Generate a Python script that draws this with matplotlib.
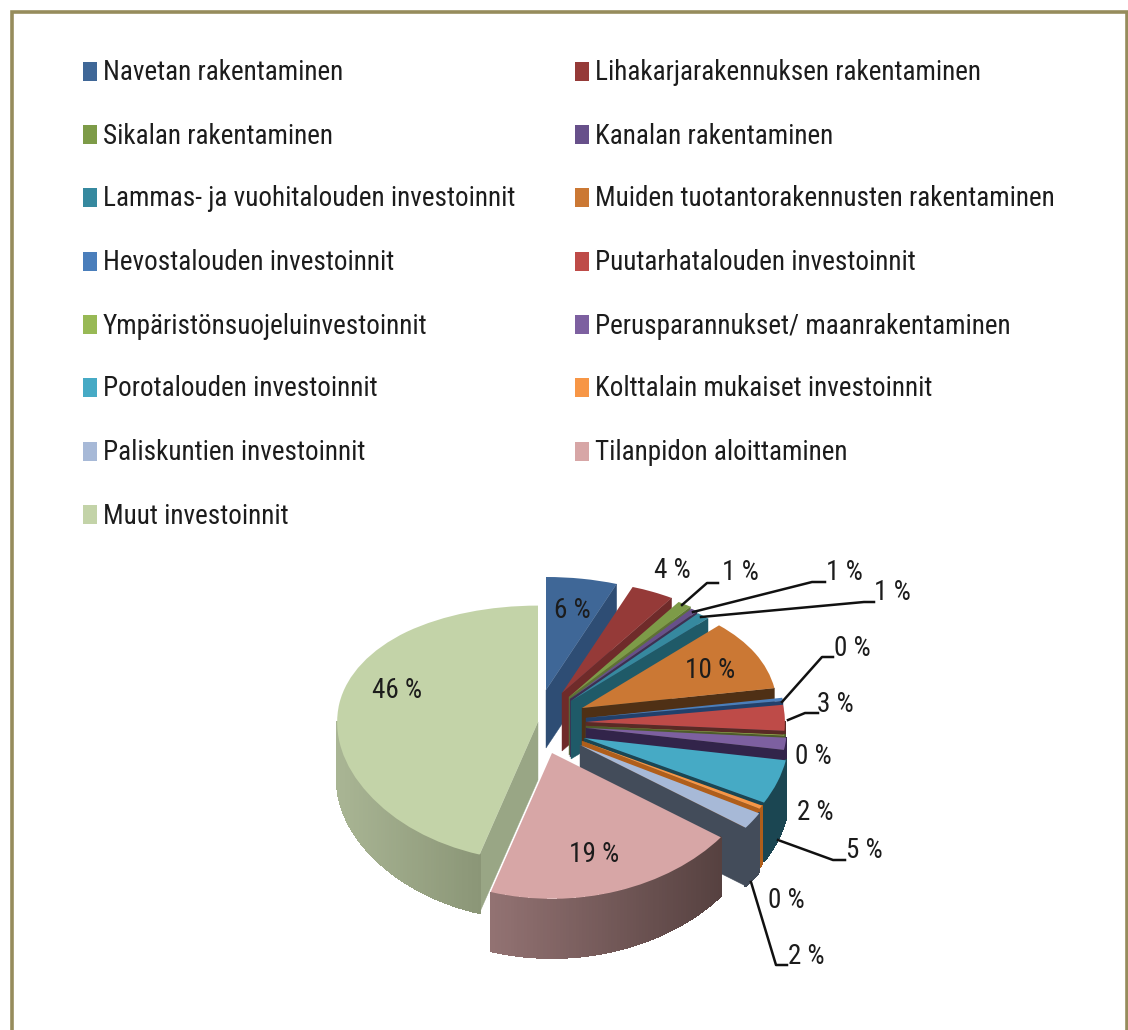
import numpy as np
import matplotlib
matplotlib.use("Agg")
import matplotlib.pyplot as plt
from matplotlib.patches import Rectangle, Polygon
from matplotlib.transforms import Transform, Affine2D
from matplotlib.collections import PolyCollection
from matplotlib.colors import to_rgb

# ---------- data ----------
categories = ["Navetan rakentaminen", "Lihakarjarakennuksen rakentaminen",
              "Sikalan rakentaminen", "Kanalan rakentaminen",
              "Lammas- ja vuohitalouden investoinnit", "Muiden tuotantorakennusten rakentaminen",
              "Hevostalouden investoinnit", "Puutarhatalouden investoinnit",
              "Ympäristönsuojeluinvestoinnit", "Perusparannukset/ maanrakentaminen",
              "Porotalouden investoinnit", "Kolttalain mukaiset investoinnit",
              "Paliskuntien investoinnit", "Tilanpidon aloittaminen", "Muut investoinnit"]
values = [5.9, 3.6, 1.2, 0.6, 1.1, 10.0, 0.4, 3.3, 0.1, 1.5, 5.2, 0.4, 1.9, 19.5, 45.3]
value_labels = ["6 %", "4 %", "1 %", "1 %", "1 %", "10 %", "0 %", "3 %", "0 %", "2 %", "5 %", "0 %", "2 %", "19 %", "46 %"]

# ---------- styling ----------
top_cols = ["#3f6797", "#953a38", "#7d9b48", "#67508a", "#36899f", "#cb7834", "#4a7ebb", "#be4b48",
            "#98b955", "#7d60a0", "#46aac5", "#f79646", "#a7b9d7", "#d7a6a6", "#c3d3a8"]
cut_cols = ["#2e4d74", "#6f2b2a", "#5d7335", "#3e2f52", "#1f5a68", "#4f3015", "#22406b", "#5a2a25",
            "#4d5c2a", "#32244a", "#1b4652", "#b05e1a", "#434c5a", "#8c6c6c", "#99a685"]
rim_light = ["#2e4d74", "#6f2b2a", "#5d7335", "#3e2f52", "#1f5a68", "#4f3015", "#22406b", "#5a2a25",
             "#4d5c2a", "#32244a", "#1b4652", "#b05e1a", "#434c5a", "#927272", "#a9b594"]
rim_dark = ["#2e4d74", "#6f2b2a", "#5d7335", "#3e2f52", "#1f5a68", "#4f3015", "#22406b", "#5a2a25",
            "#4d5c2a", "#32244a", "#1b4652", "#b05e1a", "#434c5a", "#564140", "#8b9677"]
apex = [(546, 690), (562, 693), (569, 697), (570, 699), (571, 701), (582, 708), (586, 718), (586, 722),
        (586, 726), (586, 728), (584, 738), (582, 741), (580, 745), (552, 753), (538, 722)]
scale = [1.0, 1.0, 1.0, 1.0, 1.0, 1.0, 1.02, 1.02, 1.02, 1.03, 1.05, 1.05, 1.06, 1.08, 1.03]
RX, RY_BACK, RY_FRONT, DEPTH = 195.0, 113.0, 135.0, 58.0
A, B = (RY_BACK + RY_FRONT) / 2, (RY_BACK - RY_FRONT) / 2

W, H = 1128, 1030
FONT = ["Roboto Condensed", "Roboto", "DejaVu Sans"]
TXT = "#1c1c1c"


class Squash(Transform):
    """Unit pie to screen: slightly larger towards the viewer."""
    input_dims = output_dims = 2
    has_inverse = False
    is_separable = False

    def transform_non_affine(self, xy):
        xy = np.asarray(xy, float)
        return np.column_stack([xy[:, 0] * RX, xy[:, 1] * (A + B * xy[:, 1])])


def proj(ang, r, i, dz=0.0):
    """ang: degrees clockwise from top."""
    t = np.radians(ang)
    x, y = r * np.sin(t) * scale[i], r * np.cos(t) * scale[i]
    py = y * (A + B * y)
    return np.column_stack([apex[i][0] + x * RX, -apex[i][1] + py - dz])


fig = plt.figure(figsize=(W / 100, H / 100), dpi=100, facecolor="white")
ax = fig.add_axes([0, 0, 1, 1])
wedges, _ = ax.pie(values, startangle=90, counterclock=False, radius=1,
                   colors=top_cols, wedgeprops=dict(linewidth=0))
ax.set_aspect("auto")
ax.set_xlim(0, W)
ax.set_ylim(-H, 0)
ax.axis("off")

# painter order: back slices first, biggest left slice and front slice last
order = [14] + list(range(13)) + [13]
for z, i in enumerate(order):
    w = wedges[i]
    a1 = (90 - w.theta2) % 360   # start angle, clockwise from top
    a2 = a1 + (w.theta2 - w.theta1)
    base = z * 10 + 2

    def cut(ang, col):
        rim = proj(np.array([ang]), 1.0, i)[0]
        c = np.array([apex[i][0], -apex[i][1]], float)
        pts = [c, rim, rim - [0, DEPTH], c - [0, DEPTH]]
        ax.add_patch(Polygon(pts, closed=True, fc=col, ec=col, lw=0.3, zorder=base))

    if 0 < a2 % 360 < 180:
        cut(a2, cut_cols[i])
    if 180 < a1 % 360 < 360:
        cut(a1, cut_cols[i])

    # outer rim, only the part that faces the viewer
    lo, hi = max(a1, 90), min(a2, 270)
    if hi > lo:
        angs = np.linspace(lo, hi, 80)
        p_top = proj(angs, 1.0, i)
        p_bot = p_top - [0, DEPTH]
        quads = [[p_top[k], p_top[k + 1], p_bot[k + 1], p_bot[k]] for k in range(len(angs) - 1)]
        xs = p_top[:-1, 0]
        span = max(xs.max() - xs.min(), 1)
        f = (xs - xs.min()) / span
        L, D = np.array(to_rgb(rim_light[i])), np.array(to_rgb(rim_dark[i]))
        cols = [tuple(L + (D - L) * v) for v in f]
        ax.add_collection(PolyCollection(quads, facecolors=cols, edgecolors=cols, linewidths=1.0,
                                         antialiaseds=False, zorder=base + 1))

    w.set_transform(Squash() + Affine2D().scale(scale[i]).translate(apex[i][0], -apex[i][1]) + ax.transData)
    w.set_zorder(base + 2)

# ---------- overlay in pixel coordinates ----------
ov = fig.add_axes([0, 0, 1, 1], facecolor="none")
ov.set_xlim(0, W)
ov.set_ylim(H, 0)
ov.axis("off")

# frame
frame_col = "#968c5c"
ov.plot([11.5, 11.5, 1127, 1127], [1030, 11.5, 11.5, 1030], color=frame_col, lw=2.6, solid_joinstyle="miter")

# legend
row_y = [71, 134, 197, 261, 324, 387, 451, 514]
for k, name in enumerate(categories):
    col, row = k % 2, k // 2
    sx, tx = (83, 103) if col == 0 else (575, 595)
    y = row_y[row]
    ov.add_patch(Rectangle((sx, y - 9), 14, 19, fc=top_cols[k], ec="none"))
    ov.text(tx, y + 2, name, fontsize=19.5, family=FONT, color=TXT, va="center", ha="left")

# value labels
label_xy = [(572, 611), (672, 571), (740, 573), (844, 573), (892, 593), (710, 671), (852, 649), (835, 704),
            (813, 756), (815, 813), (864, 851), (786, 900), (806, 956), (594, 855), (397, 691)]
for s, (x, y) in zip(value_labels, label_xy):
    ov.text(x, y, s, fontsize=19.5, family=FONT, color=TXT, va="center", ha="center")

# leader lines
leaders = [[(682, 605), (707, 583), (718, 583)], [(693, 612), (812, 582), (825, 582)],
           [(701, 617), (864, 602), (874, 602)], [(782, 702), (822, 657), (833, 657)],
           [(788, 720), (805, 713), (818, 713)], [(778, 840), (833, 860), (845, 860)],
           [(751, 882), (776, 965), (787, 965)]]
for pts in leaders:
    xs, ys = zip(*pts)
    ov.plot(xs, ys, color="#111111", lw=1.8, solid_joinstyle="round")

fig.savefig("out.png", dpi=100, facecolor="white")
